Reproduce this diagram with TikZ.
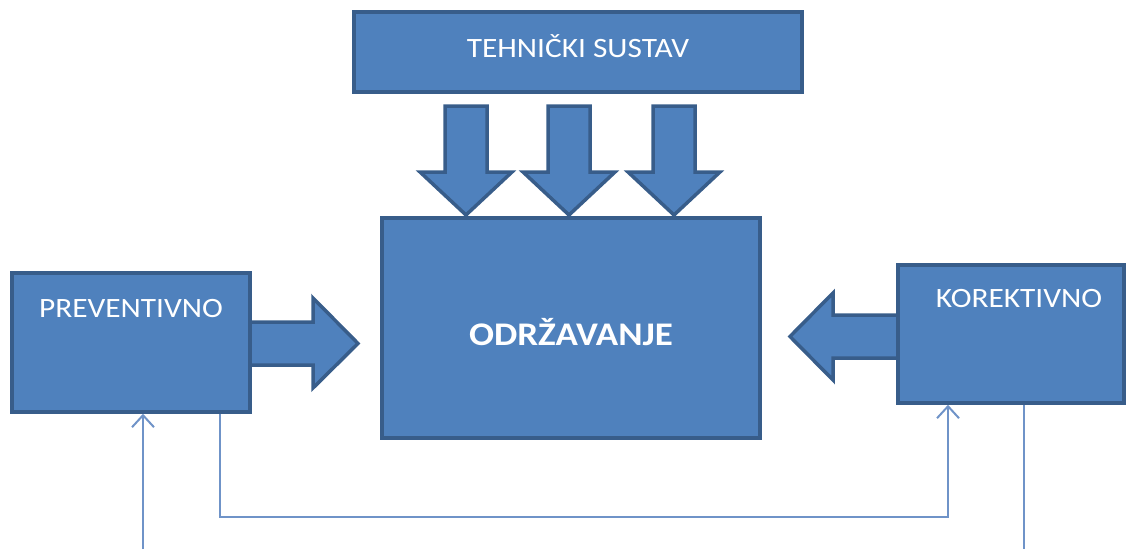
\documentclass[tikz,border=0pt]{standalone}
\usepackage{fontspec}
\setmainfont{Carlito}
\usetikzlibrary{arrows.meta}
\definecolor{boxfill}{HTML}{4F81BD}
\definecolor{boxline}{HTML}{385D8A}
\definecolor{connc}{HTML}{6F93C8}
\newcommand\wtext[1]{\scalebox{1.12}[1]{#1}}
\begin{document}
\begin{tikzpicture}[x=1pt,y=-1pt,
  blockbox/.style={draw=boxline,fill=boxfill,line width=3.5pt,inner sep=0pt,rectangle},
  blockarrow/.style={draw=boxline,fill=boxfill,line width=3.5pt,line join=miter},
  lbl/.style={text=white,inner sep=0pt,anchor=base,font=\fontsize{28}{30}\selectfont},
  biglbl/.style={text=white,inner sep=0pt,anchor=base,font=\fontsize{33}{36}\selectfont\bfseries},
  connline/.style={draw=connc,line width=2pt},
  connarrow/.style={connline,-{Straight Barb[length=12pt,width=22pt,line width=2pt]}}]
\useasboundingbox (0,0) rectangle (1126,549);
% block arrows (behind the boxes)
\foreach \cx in {466,569,674}{
  \draw[blockarrow] (\cx-21,106) -- (\cx+21,106) -- (\cx+21,172) -- (\cx+46,172)
     -- (\cx,215) -- (\cx-46,172) -- (\cx-21,172) -- cycle;
}
\draw[blockarrow] (247,322) -- (313,322) -- (313,298) -- (358,343.5) -- (313,388)
   -- (313,365) -- (247,365) -- cycle;
\draw[blockarrow] (898,315) -- (833,315) -- (833,293) -- (790,336.5) -- (833,380)
   -- (833,358) -- (898,358) -- cycle;
% boxes
\node[blockbox,minimum width=448pt,minimum height=80pt] (teh) at (578,52) {};
\node[blockbox,minimum width=378pt,minimum height=220pt] (odr) at (571,328) {};
\node[blockbox,minimum width=238pt,minimum height=139pt] (prev) at (131,342.5) {};
\node[blockbox,minimum width=226pt,minimum height=138pt] (kor) at (1011,334) {};
% labels
\node[lbl] (tehl) at (578,57) {\wtext{TEHNIČKI SUSTAV}};
\node[biglbl] (odrl) at (571,345) {\wtext{ODRŽAVANJE}};
\node[lbl] (prevl) at (131,317) {\wtext{PREVENTIVNO}};
\node[lbl] (korl) at (1019,307) {\wtext{KOREKTIVNO}};
% connectors
\coordinate (in1) at (143,549);
\coordinate (c2a) at (220,517);
\coordinate (c2b) at (948,517);
\coordinate (out1) at (1024,549);
\draw[connarrow] (in1) -- (prev.south -| in1);
\draw[connarrow] (prev.south -| c2a) -- (c2a) -- (c2b) -- (kor.south -| c2b);
\draw[connline] (kor.south -| out1) -- (out1);
\end{tikzpicture}
\end{document}
